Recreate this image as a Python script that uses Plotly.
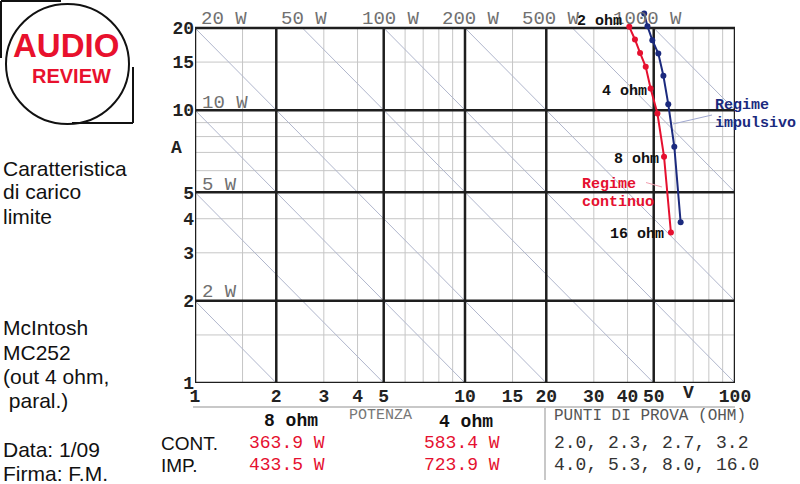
import math
import plotly.graph_objects as go

# ---------------- data ----------------
loads_ohm = [2.0, 2.3, 2.7, 3.2, 4.0, 5.3, 8.0, 16.0]
cont_volts = [40.6, 42.6, 44.5, 46.7, 48.7, 51.6, 54.6, 57.9]
cont_amps = [20.2, 18.15, 16.2, 14.41, 12.01, 9.72, 6.75, 3.56]
imp_volts = [46.1, 47.4, 49.4, 52.0, 54.3, 56.6, 59.6, 62.9]
imp_amps = [22.6, 20.3, 18.05, 16.13, 13.36, 10.52, 7.34, 3.88]

x_ticks = [1, 2, 3, 4, 5, 10, 15, 20, 30, 40, 50, 100]
y_ticks = [1, 2, 3, 4, 5, 10, 15, 20]
x_major = [1, 2, 5, 10, 20, 50, 100]
x_minor = [1.5, 3, 4, 6, 7, 8, 9, 15, 30, 40, 60, 70, 80, 90]
y_major = [1, 2, 5, 10, 20]
y_minor = [1.5, 3, 4, 6, 7, 8, 9, 15]
power_lines_w = [2, 5, 10, 20, 50, 100, 200, 500, 1000]

cont_power_w = [363.9, 583.4]   # 8 ohm, 4 ohm
imp_power_w = [433.5, 723.9]

# ---------------- layout geometry ----------------
W, H = 800, 484
L, R, T, B = 195, 65, 9, 101
PW = W - L - R
PH = H - T - B
XMIN, XMAX = 1, 100
YMIN, YMAX = 1, 20
ypd = (H - B - 28) / math.log10(YMAX)      # px per decade
ytop = math.log10(YMAX) + (28 - T) / ypd


def px(x):
    return (x - L) / PW


def py(y):
    return (H - B - y) / PH


MONO = "Liberation Mono"
SANS = "Liberation Sans"
RED = "#e5102f"
BLUE = "#1b2a7e"

fig = go.Figure()


def grid_trace(vals, axis, color, width):
    xs, ys = [], []
    for v in vals:
        if axis == "x":
            xs += [v, v, None]
            ys += [YMIN, YMAX, None]
        else:
            xs += [XMIN, XMAX, None]
            ys += [v, v, None]
    fig.add_trace(go.Scatter(x=xs, y=ys, mode="lines", hoverinfo="skip",
                             line=dict(color=color, width=width), showlegend=False))


# minor grid
grid_trace(x_minor, "x", "#c6c6c6", 1)
grid_trace(y_minor, "y", "#c6c6c6", 1)

# constant power diagonals
dx, dy = [], []
for p in power_lines_w:
    v0 = max(XMIN, p / YMAX)
    v1 = min(XMAX, p / YMIN)
    dx += [v0, v1, None]
    dy += [p / v0, p / v1, None]
fig.add_trace(go.Scatter(x=dx, y=dy, mode="lines", hoverinfo="skip",
                         line=dict(color="#b0b6cc", width=1), showlegend=False))

# major grid
grid_trace(x_major, "x", "#1e1e1e", 2.5)
grid_trace(y_major, "y", "#1e1e1e", 2.5)

# leader lines
fig.add_trace(go.Scatter(x=[10 ** ((673 - L) / 270), 10 ** ((712 - L) / 270)],
                         y=[10 ** ((383 - 124) / ypd), 10 ** ((383 - 115) / ypd)],
                         mode="lines", line=dict(color="#a0a8d0", width=1),
                         hoverinfo="skip", showlegend=False, cliponaxis=False))
fig.add_trace(go.Scatter(x=[10 ** ((646 - L) / 270), 10 ** ((662 - L) / 270)],
                         y=[10 ** ((383 - 182.5) / ypd), 10 ** ((383 - 187) / ypd)],
                         mode="lines", line=dict(color="#f2a0b0", width=1),
                         hoverinfo="skip", showlegend=False))

# data curves
fig.add_trace(go.Scatter(x=cont_volts, y=cont_amps, mode="lines+markers",
                         line=dict(color=RED, width=2), marker=dict(color=RED, size=6),
                         cliponaxis=False, showlegend=False,
                         customdata=loads_ohm))
fig.add_trace(go.Scatter(x=imp_volts, y=imp_amps, mode="lines+markers",
                         line=dict(color=BLUE, width=2), marker=dict(color=BLUE, size=6),
                         cliponaxis=False, showlegend=False,
                         customdata=loads_ohm))

fig.update_layout(
    width=W, height=H,
    margin=dict(l=L, r=R, t=T, b=B, pad=0, autoexpand=False),
    paper_bgcolor="white", plot_bgcolor="white",
    showlegend=False,
    xaxis=dict(type="log", range=[math.log10(XMIN), math.log10(XMAX)],
               tickmode="array", tickvals=x_ticks, automargin=False,
               ticktext=["<b>%g</b>" % v for v in x_ticks],
               tickfont=dict(family=MONO, size=18, color="#222"),
               showgrid=False, zeroline=False, showline=False, ticks=""),
    yaxis=dict(type="log", range=[0, ytop], automargin=False,
               tickmode="array", tickvals=y_ticks,
               ticktext=["<b>%g</b>" % v for v in y_ticks],
               tickfont=dict(family=MONO, size=18, color="#222"),
               showgrid=False, zeroline=False, showline=False, ticks=""),
)

ann = []


def text(s, x, y, size, color="#222", family=MONO, anchor="left", bold=False):
    if bold:
        s = "<b>" + s + "</b>"
    ann.append(dict(text=s, x=px(x), y=py(y), xref="paper", yref="paper",
                    xanchor=anchor, yanchor="middle", showarrow=False,
                    font=dict(family=family, size=size, color=color)))


# power labels
GRAY = "#707070"
top_labels = [(20, 199), (50, 279), (100, 360), (200, 440), (500, 520), (1000, 611)]
for p, x in top_labels:
    text("%d W" % p, x, 19, 19, GRAY)
left_labels = [(10, 103), (5, 185), (2, 292)]
for p, y in left_labels:
    text("%d W" % p, 200, y, 19, GRAY)

# axis letters
text("A", 176, 148, 18, "#222", anchor="center", bold=True)
text("V", 688, 393, 18, "#222", anchor="center", bold=True)

# load labels
text("%g ohm" % loads_ohm[0], 575, 21, 15, "#111", bold=True)
text("%g ohm" % loads_ohm[4], 600, 91, 15, "#111", bold=True)
text("%g ohm" % loads_ohm[6], 612, 159, 15, "#111", bold=True)
text("%g ohm" % loads_ohm[7], 608, 234, 15, "#111", bold=True)
text("Regime", 580, 184, 15, RED, bold=True)
text("continuo", 580, 202, 15, RED, bold=True)
text("Regime", 713, 105, 15, BLUE, bold=True)
text("impulsivo", 713, 123, 15, BLUE, bold=True)

# left texts
for s, y in [("Caratteristica", 168), ("di carico", 192), ("limite", 216),
             ("McIntosh", 327), ("MC252", 352), ("(out 4 ohm,", 376), (" paral.)", 400),
             ("Data: 1/09", 449), ("Firma: F.M.", 473)]:
    text(s.replace(" ", "&nbsp;") if s.startswith(" ") else s, 1, y, 21, "#111", SANS)

# table
text("%g ohm" % loads_ohm[6], 262, 421, 18, "#111", bold=True)
text("POTENZA", 347, 416, 15, "#777")
text("%g ohm" % loads_ohm[4], 437, 422, 18, "#111", bold=True)
text("PUNTI DI PROVA (OHM)", 552, 416, 16, "#555")
text("CONT.", 159, 443, 19, "#111", SANS)
text("IMP.", 159, 465, 19, "#111", SANS)
text("%.1f W" % cont_power_w[0], 247, 443, 18, RED)
text("%.1f W" % cont_power_w[1], 422, 443, 18, RED)
text("%.1f W" % imp_power_w[0], 247, 465, 18, RED)
text("%.1f W" % imp_power_w[1], 422, 465, 18, RED)
text(", ".join("%.1f" % v for v in loads_ohm[:4]), 552, 443, 18, "#333")
text(", ".join("%.1f" % v for v in loads_ohm[4:]), 552, 465, 18, "#333")

# logo
text("AUDIO", 66, 45, 33, "#e8112d", SANS, anchor="center", bold=True)
text("REVIEW", 71, 76, 20, "#e8112d", SANS, anchor="center", bold=True)

fig.update_layout(annotations=ann)

shapes = []


def pline(x0, y0, x1, y1, color="#111", width=2):
    shapes.append(dict(type="line", xref="paper", yref="paper",
                       x0=px(x0), y0=py(y0), x1=px(x1), y1=py(y1),
                       line=dict(color=color, width=width)))


shapes.append(dict(type="circle", xref="paper", yref="paper",
                   x0=px(6), x1=px(129), y0=py(124), y1=py(4),
                   line=dict(color="#111", width=2)))
pline(1, 1, 61, 1)
pline(1, 1, 1, 58)
pline(133, 67, 133, 123)
pline(72, 123, 133, 123)
# table rules
pline(193, 407, 735, 407, "#c8c8c8", 2)
pline(545, 407, 545, 480, "#c8c8c8", 2)
fig.update_layout(shapes=shapes)

fig.write_html("out.html", config={"displayModeBar": False},
               post_script="document.body.style.margin='0px';document.body.style.padding='0px';")
